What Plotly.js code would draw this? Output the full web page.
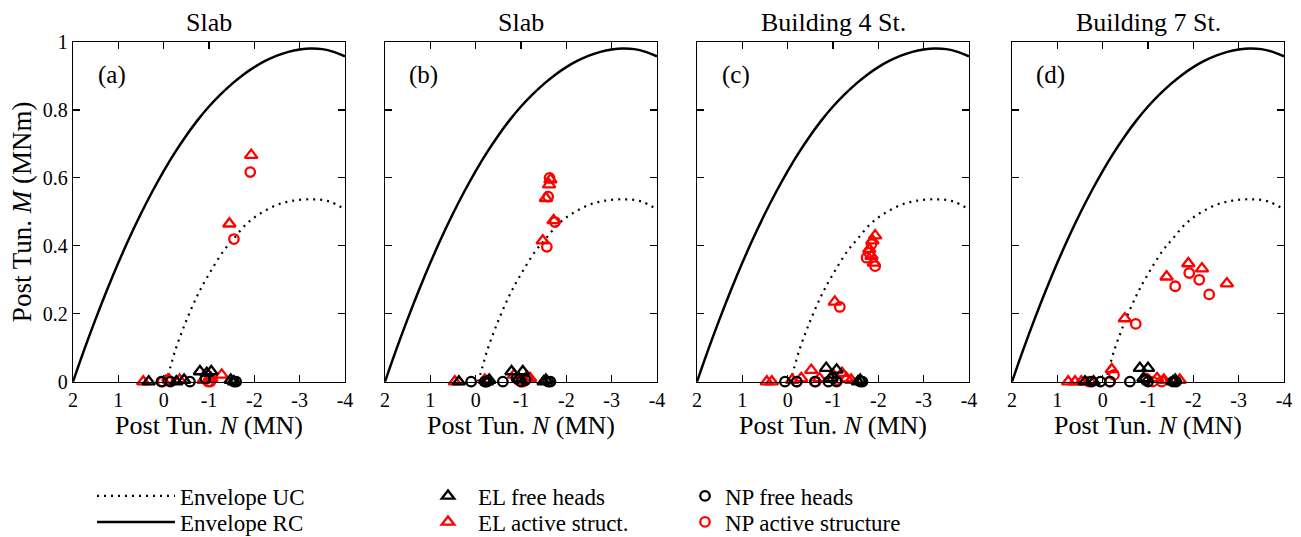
<!DOCTYPE html>
<html><head><meta charset="utf-8">
<script src="https://cdn.plot.ly/plotly-3.0.1.min.js"></script>
<style>html,body{margin:0;padding:0;background:#fff}</style>
</head><body>
<div id="chart" style="width:1301px;height:537px"></div>
<script>
// ---- text ----
const panelTitles = ['Slab', 'Slab', 'Building 4 St.', 'Building 7 St.'];
const panelLetters = ['(a)', '(b)', '(c)', '(d)'];
const xTitle = 'Post Tun. <i>N</i> (MN)';
const yTitle = 'Post Tun. <i>M</i> (MNm)';
const xTickVals = [2, 1, 0, -1, -2, -3, -4];
const xTickText = ['2', '1', '0', '-1', '-2', '-3', '-4'];
const yTickVals = [0, 0.2, 0.4, 0.6, 0.8, 1];
const yTickText = ['0', '0.2', '0.4', '0.6', '0.8', '1'];
const seriesNames = ['Envelope UC', 'Envelope RC', 'EL free heads', 'EL active struct.', 'NP free heads', 'NP active structure'];

// ---- envelopes (same in every panel) ----
const envRcN = [2, 1.75, 1.5, 1.25, 1, 0.75, 0.5, 0.25, 0, -0.25, -0.5, -0.75, -1, -1.25, -1.5, -1.75, -2, -2.25, -2.5, -2.75, -3, -3.25, -3.5, -3.75, -4];
const envRcM = [0, 0.095, 0.185, 0.27, 0.35, 0.425, 0.495, 0.56, 0.62, 0.675, 0.725, 0.77, 0.81, 0.845, 0.876, 0.903, 0.926, 0.945, 0.96, 0.971, 0.978, 0.981, 0.979, 0.971, 0.958];
const envUcN = [-0.05, -0.11, -0.25, -0.47, -0.73, -0.95, -1.32, -1.54, -1.83, -2.13, -2.49, -2.86, -3.3, -3.67, -4];
const envUcM = [0, 0.025, 0.09, 0.17, 0.25, 0.305, 0.385, 0.42, 0.465, 0.495, 0.52, 0.533, 0.537, 0.53, 0.507];

// ---- panel (a) ----
const aElFreeN = [0.33, -0.28, -0.45, -0.8, -0.95, -1.05, -1.48, -1.55];
const aElFreeM = [0, 0, 0.005, 0.03, 0.025, 0.03, 0.005, 0];
const aNpFreeN = [0.05, -0.15, -0.58, -0.92, -1.55, -1.6];
const aNpFreeM = [0, 0, 0, 0.01, 0, 0];
const aElActN = [0.45, -0.12, -0.35, -0.88, -1.05, -1.28, -1.45, -1.93];
const aElActM = [0, 0.005, 0.005, 0.005, 0.01, 0.02, 0.465, 0.667];
const aNpActN = [0.02, -0.08, -0.98, -1.03, -1.55, -1.91];
const aNpActM = [0, 0.005, 0, 0, 0.42, 0.617];

// ---- panel (b) ----
const bElFreeN = [0.37, -0.25, -0.3, -0.79, -0.95, -1.04, -1.5, -1.55];
const bElFreeM = [0, 0, 0.005, 0.03, 0.01, 0.03, 0, 0.005];
const bNpFreeN = [0.1, -0.2, -0.25, -0.6, -0.9, -1.0, -1.1, -1.6, -1.65];
const bNpFreeM = [0, 0, 0, 0, 0.01, 0, 0.005, 0, 0];
const bElActN = [0.46, -0.2, -0.85, -1.13, -1.2, -1.48, -1.55, -1.62, -1.65, -1.72];
const bElActM = [0, 0.005, 0.02, 0.015, 0.01, 0.415, 0.54, 0.58, 0.595, 0.475];
const bNpActN = [-0.22, -0.95, -1.05, -1.57, -1.6, -1.63, -1.75];
const bNpActM = [0, 0.005, 0, 0.397, 0.545, 0.6, 0.47];

// ---- panel (c) ----
const cElFreeN = [-0.85, -0.95, -1.08, -1.55, -1.6];
const cElFreeM = [0.04, 0.01, 0.035, 0, 0.005];
const cNpFreeN = [0.06, -0.2, -0.6, -0.9, -1.0, -1.08, -1.6, -1.65];
const cNpFreeM = [0, 0, 0, 0, 0.01, 0, 0, 0];
const cElActN = [0.46, 0.35, -0.1, -0.3, -0.52, -0.7, -1.0, -1.2, -1.3, -1.4, -1.04, -1.8, -1.85, -1.87, -1.9, -1.93];
const cElActM = [0, 0, 0.005, 0.01, 0.034, 0.01, 0.02, 0.025, 0.01, 0.005, 0.235, 0.39, 0.37, 0.415, 0.35, 0.43];
const cNpActN = [-0.2, -0.62, -1.08, -1.15, -1.74, -1.8, -1.85, -1.93];
const cNpActM = [0, 0, 0.005, 0.22, 0.365, 0.38, 0.405, 0.34];

// ---- panel (d) ----
const dElFreeN = [0.39, 0.2, -0.82, -0.9, -1.0, -1.55, -1.6];
const dElFreeM = [0, 0, 0.04, 0.01, 0.04, 0, 0.005];
const dNpFreeN = [0.24, 0.05, -0.16, -0.6, -0.95, -1.0, -1.55, -1.62];
const dNpFreeM = [0, 0, 0, 0, 0.005, 0, 0, 0];
const dElActN = [0.76, 0.61, 0.47, -0.2, -1.2, -1.35, -1.7, -0.49, -1.41, -1.89, -2.19, -2.74];
const dElActM = [0, 0, 0, 0.036, 0.01, 0.005, 0.005, 0.186, 0.309, 0.348, 0.333, 0.289];
const dNpActN = [0.3, -0.16, -0.25, -0.95, -1.1, -1.3, -0.73, -1.6, -1.91, -2.13, -2.35];
const dNpActM = [0, 0, 0.02, 0.01, 0, 0, 0.17, 0.281, 0.32, 0.3, 0.257];

// ---- build ----
const W = 1301, H = 537;
const FONT = 'Liberation Serif';
const panelPx = [[73, 345], [385, 657], [697, 969], [1012, 1284]];
const plotTop = 42, plotBottom = 381.7;
const yDomain = [(H - plotBottom) / H, (H - plotTop) / H];

const panels = [
  {elF: [aElFreeN, aElFreeM], npF: [aNpFreeN, aNpFreeM], elA: [aElActN, aElActM], npA: [aNpActN, aNpActM]},
  {elF: [bElFreeN, bElFreeM], npF: [bNpFreeN, bNpFreeM], elA: [bElActN, bElActM], npA: [bNpActN, bNpActM]},
  {elF: [cElFreeN, cElFreeM], npF: [cNpFreeN, cNpFreeM], elA: [cElActN, cElActM], npA: [cNpActN, cNpActM]},
  {elF: [dElFreeN, dElFreeM], npF: [dNpFreeN, dNpFreeM], elA: [dElActN, dElActM], npA: [dNpActN, dNpActM]}
];

const traces = [];
const layout = {
  width: W, height: H,
  margin: {l: 0, r: 0, t: 0, b: 0, autoexpand: false},
  paper_bgcolor: '#ffffff', plot_bgcolor: 'rgba(0,0,0,0)',
  font: {family: FONT, size: 20, color: '#000'},
  showlegend: true,
  hovermode: false,
  annotations: []
};

// one legend per entry so that rows and columns sit where the reference puts them
const legendSpots = {
  legend:  {x: 92,  y: 496, w: 78},
  legend2: {x: 92,  y: 522, w: 78},
  legend3: {x: 418, y: 496, w: 50},
  legend4: {x: 418, y: 522, w: 50},
  legend5: {x: 685, y: 496, w: 30},
  legend6: {x: 685, y: 522, w: 30}
};
Object.keys(legendSpots).forEach(k => {
  const s = legendSpots[k];
  layout[k] = {
    orientation: 'v', xanchor: 'left', yanchor: 'middle',
    x: s.x / W, y: 1 - s.y / H, itemwidth: s.w,
    bgcolor: 'rgba(0,0,0,0)', borderwidth: 0,
    font: {family: FONT, size: 23, color: '#000'},
    tracegroupgap: 0
  };
});

panels.forEach((p, i) => {
  const sfx = i === 0 ? '' : String(i + 1);
  const xa = 'x' + sfx, ya = 'y' + sfx;
  const first = i === 0;

  traces.push({x: envUcN, y: envUcM, xaxis: xa, yaxis: ya, type: 'scatter', mode: 'lines',
    line: {color: '#000', width: 2.2, dash: '2px,5px', shape: 'spline'},
    name: seriesNames[0], showlegend: first, legend: 'legend'});
  traces.push({x: envRcN, y: envRcM, xaxis: xa, yaxis: ya, type: 'scatter', mode: 'lines',
    line: {color: '#000', width: 2.5, shape: 'spline'},
    name: seriesNames[1], showlegend: first, legend: 'legend2'});

  const mk = (d, sym, col, size, name, leg) => ({
    x: d[0], y: d[1], xaxis: xa, yaxis: ya, type: 'scatter', mode: 'markers', cliponaxis: false,
    marker: {symbol: sym, size: size, color: col, line: {color: col, width: 2.3}},
    name: name, showlegend: first, legend: leg
  });
  traces.push(mk(p.elA, 'triangle-up-open', '#ff0000', 11, seriesNames[3], 'legend4'));
  traces.push(mk(p.npA, 'circle-open', '#ff0000', 9.5, seriesNames[5], 'legend6'));
  traces.push(mk(p.elF, 'triangle-up-open', '#000000', 11, seriesNames[2], 'legend3'));
  traces.push(mk(p.npF, 'circle-open', '#000000', 9.5, seriesNames[4], 'legend5'));

  const px = panelPx[i];
  layout['xaxis' + sfx] = {
    domain: [px[0] / W, px[1] / W], anchor: ya,
    range: [2, -4], autorange: false,
    tickmode: 'array', tickvals: xTickVals, ticktext: xTickText,
    ticks: 'inside', ticklen: 7, tickwidth: 1.2, tickcolor: '#000',
    showline: true, linecolor: '#000', linewidth: 1.3, mirror: 'ticks',
    showgrid: false, zeroline: false, fixedrange: true, automargin: false,
    tickfont: {family: FONT, size: 20, color: '#000'},
    title: {text: xTitle, font: {family: FONT, size: 26, color: '#000'}, standoff: 2}
  };
  layout['yaxis' + sfx] = {
    domain: yDomain, anchor: xa,
    range: [0, 1], autorange: false,
    tickmode: 'array', tickvals: yTickVals, ticktext: yTickText,
    ticks: 'inside', ticklen: 7, tickwidth: 1.2, tickcolor: '#000',
    showline: true, linecolor: '#000', linewidth: 1.3, mirror: 'ticks',
    showgrid: false, zeroline: false, fixedrange: true, automargin: false,
    showticklabels: first,
    tickfont: {family: FONT, size: 20, color: '#000'},
    title: first ? {text: yTitle, font: {family: FONT, size: 27, color: '#000'}, standoff: 3} : {text: ''}
  };

  layout.annotations.push({
    xref: xa + ' domain', yref: ya + ' domain', x: 0.5, y: 1 + (plotTop - 22) / (plotBottom - plotTop),
    xanchor: 'center', yanchor: 'middle', showarrow: false, text: panelTitles[i],
    font: {family: FONT, size: 26, color: '#000'}
  });
  layout.annotations.push({
    xref: xa + ' domain', yref: ya + ' domain', x: 0.143, y: 1 - (75 - plotTop) / (plotBottom - plotTop),
    xanchor: 'center', yanchor: 'middle', showarrow: false, text: panelLetters[i],
    font: {family: FONT, size: 25, color: '#000'}
  });
});

Plotly.newPlot('chart', traces, layout, {staticPlot: true, displayModeBar: false});
</script>
</body></html>
